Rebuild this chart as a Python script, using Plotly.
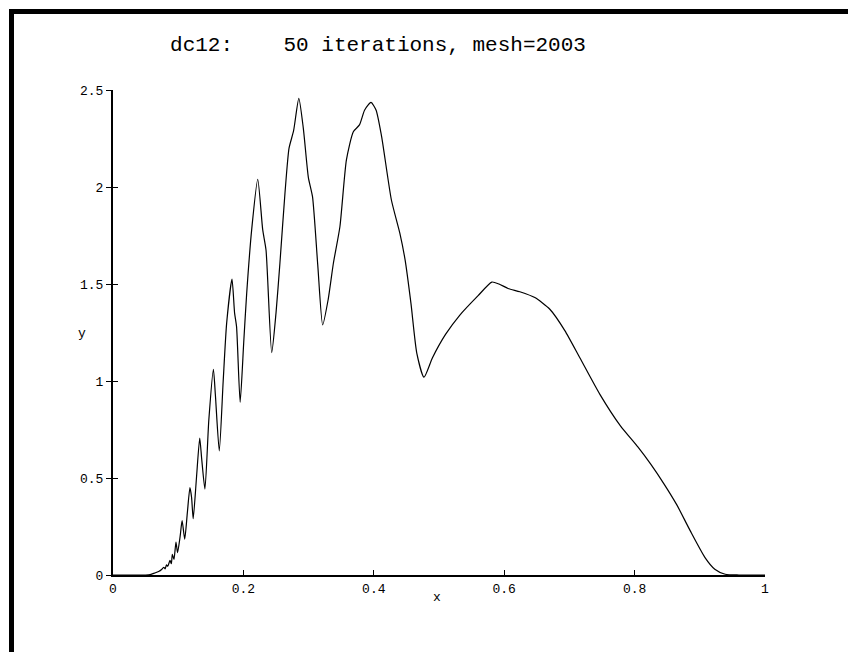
import plotly.graph_objects as go

# ---- data ----
x_vals = [0, 0.05, 0.057, 0.064, 0.070, 0.075, 0.078, 0.080, 0.082, 0.084, 0.0874,
          0.0895, 0.091, 0.0935, 0.0966, 0.099, 0.103, 0.106, 0.110, 0.114, 0.118,
          0.1205, 0.123, 0.128, 0.133, 0.136, 0.141, 0.147, 0.154, 0.157, 0.163,
          0.169, 0.1743, 0.1825, 0.1865, 0.1895, 0.195, 0.2005, 0.205, 0.2127, 0.222,
          0.2296, 0.2347, 0.2434, 0.250, 0.256, 0.2638, 0.270, 0.277, 0.285, 0.292,
          0.2996, 0.306, 0.314, 0.3216, 0.330, 0.338, 0.348, 0.358, 0.3686, 0.378,
          0.386, 0.3957, 0.4034, 0.412, 0.427, 0.440, 0.448, 0.457, 0.466, 0.477,
          0.490, 0.510, 0.532, 0.560, 0.581, 0.592, 0.606, 0.624, 0.647, 0.670, 0.693,
          0.716, 0.747, 0.778, 0.805, 0.825, 0.845, 0.865, 0.885, 0.908, 0.923, 0.939,
          0.96, 1.0]
y_vals = [0, 0, 0.002, 0.01, 0.018, 0.03, 0.04, 0.032, 0.052, 0.045, 0.075,
          0.058, 0.107, 0.08, 0.17, 0.115, 0.2, 0.28, 0.185, 0.32, 0.45,
          0.4, 0.29, 0.5, 0.706, 0.6, 0.443, 0.8, 1.06, 0.93, 0.64,
          1.0, 1.297, 1.525, 1.35, 1.28, 0.89, 1.2, 1.45, 1.78, 2.04,
          1.78, 1.675, 1.146, 1.35, 1.607, 1.97, 2.2, 2.29, 2.457, 2.3,
          2.05, 1.95, 1.6, 1.289, 1.42, 1.607, 1.795, 2.14, 2.285, 2.32,
          2.397, 2.436, 2.397, 2.26, 1.933, 1.761, 1.624, 1.4, 1.143, 1.02,
          1.12, 1.24, 1.34, 1.44, 1.51, 1.50, 1.477, 1.46, 1.43, 1.37, 1.26,
          1.12, 0.93, 0.77, 0.66, 0.57, 0.47, 0.36, 0.23, 0.09, 0.03, 0.004,
          0, 0]

x_ticks = [0, 0.2, 0.4, 0.6, 0.8, 1]
x_tick_labels = ["0", "0.2", "0.4", "0.6", "0.8", "1"]
y_ticks = [0, 0.5, 1, 1.5, 2, 2.5]
y_tick_labels = ["0", "0.5", "1", "1.5", "2", "2.5"]

title_text = "dc12:\u00a0\u00a0\u00a0\u00a050 iterations, mesh=2003"
MONO = "Liberation Mono, Courier New, monospace"

# the page body has an 8px margin, so the figure is sized/positioned accordingly
OFF = 8
W, H = 856 - OFF, 652 - OFF

fig = go.Figure()
fig.add_trace(go.Scatter(x=x_vals, y=y_vals, mode="lines",
                         line=dict(color="black", width=1.2, shape="spline", smoothing=0.6),
                         showlegend=False, hoverinfo="skip"))
# invisible trace to carry the inner half of the y ticks
fig.add_trace(go.Scatter(x=x_vals, y=y_vals, mode="lines", yaxis="y2", opacity=0,
                         line=dict(color="black", width=0), showlegend=False, hoverinfo="skip"))

fig.update_layout(
    width=W, height=H,
    margin=dict(l=113 - OFF, r=91, t=90 - OFF, b=77, pad=0),
    paper_bgcolor="white", plot_bgcolor="white",
    font=dict(family=MONO, color="black", size=13),
    title=dict(text=title_text, x=(378 - OFF) / W, xanchor="center", y=1 - (44 - OFF) / H,
               yanchor="middle", xref="container", yref="container",
               font=dict(family=MONO, size=21, color="black")),
    xaxis=dict(range=[0, 1], tickvals=x_ticks, ticktext=x_tick_labels, ticks="inside", ticklen=5,
               tickwidth=1, tickcolor="black", showline=True, linecolor="black", linewidth=2,
               showgrid=False, zeroline=False, tickfont=dict(family=MONO, size=13)),
    yaxis=dict(range=[0, 2.5], tickvals=y_ticks, ticktext=y_tick_labels, ticks="outside", ticklen=5,
               tickwidth=1, tickcolor="black", showline=True, linecolor="black", linewidth=2,
               showgrid=False, zeroline=False, tickfont=dict(family=MONO, size=13)),
    yaxis2=dict(range=[0, 2.5], overlaying="y", side="left", tickvals=y_ticks, ticks="inside",
                ticklen=5, tickwidth=1, tickcolor="black", showticklabels=False, showline=False,
                showgrid=False, zeroline=False),
    annotations=[
        dict(text="x", x=(437 - 113) / 652, y=-22 / 485, xref="paper", yref="paper", showarrow=False,
             xanchor="center", yanchor="middle", font=dict(family=MONO, size=13)),
        dict(text="y", x=(82 - 113) / 652, y=(575 - 333) / 485, xref="paper", yref="paper",
             showarrow=False, xanchor="center", yanchor="middle", font=dict(family=MONO, size=13)),
    ],
    shapes=[
        dict(type="line", xref="paper", yref="paper", x0=(11.5 - 113) / 652, x1=(11.5 - 113) / 652,
             y0=(575 - 9) / 485, y1=(575 - 660) / 485, line=dict(color="black", width=5)),
        dict(type="line", xref="paper", yref="paper", x0=(9 - 113) / 652, x1=(860 - 113) / 652,
             y0=(575 - 11.5) / 485, y1=(575 - 11.5) / 485, line=dict(color="black", width=5)),
    ],
)

fig.write_html("out.html")
